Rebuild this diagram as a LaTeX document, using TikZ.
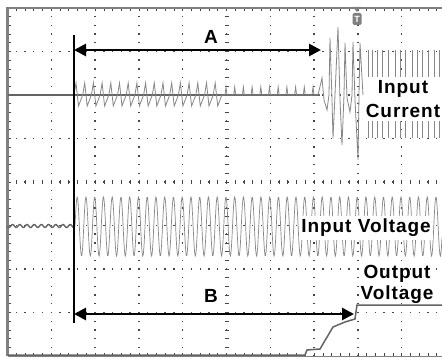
\documentclass[tikz,border=0pt]{standalone}
\usepackage{fontspec}
\setmainfont{Liberation Sans}[BoldFont={Liberation Sans Bold}]
\newfontfamily\labelfont{Liberation Sans Bold}[LetterSpace=5]
\usetikzlibrary{arrows.meta}
\definecolor{trace}{RGB}{100,100,100}
\definecolor{tracelt}{RGB}{135,135,135}
\definecolor{gridc}{RGB}{70,70,70}
\tikzset{
  lbl/.style={font=\labelfont\fontsize{19}{19}\selectfont, inner sep=0pt},
  lblbox/.style={lbl, fill=white, inner xsep=2pt, inner ysep=3pt, align=center},
  marker/.style={line width=2.7pt, black},
  span/.style={marker, {Triangle[length=12pt,width=12pt]}-{Triangle[length=12pt,width=12pt]}},
}

\begin{document}
\begin{tikzpicture}[x=1pt,y=-1pt]
\useasboundingbox (0,0) rectangle (442,358);
\fill[white] (0,0) rectangle (442,358);
% graticule
\foreach \i in {1,...,9}
  \foreach \j in {0,...,40}
    \fill[gridc] ({7.5+43.8*\i-0.7},{8+8.7*\j-0.7}) rectangle ++(1.4,1.4);
\foreach \j in {1,...,7}
  \foreach \i in {0,...,50}
    \fill[gridc] ({7.5+8.76*\i-0.7},{8+43.5*\j-0.7}) rectangle ++(1.4,1.4);
\foreach \i in {0,...,50} {
  \draw[gridc, line width=0.7pt] ({7.5+8.76*\i},180) -- ++(0,4);
  \draw[gridc, line width=0.7pt] ({7.5+8.76*\i},8) -- ++(0,3);
  \draw[gridc, line width=0.7pt] ({7.5+8.76*\i},356) -- ++(0,-3);
}
\foreach \j in {0,...,40} {
  \draw[gridc, line width=0.7pt] (224.5,{8+8.7*\j}) -- ++(4,0);
  \draw[gridc, line width=0.7pt] (7.5,{8+8.7*\j}) -- ++(3,0);
}
\draw[gray, line width=2.2pt] (7.5,356) -- (7.5,8) -- (446,8);
\draw[gray, line width=1pt] (7.5,356) -- (446,356);

% input current
\draw[trace, line width=1.5pt] (7.5,95) -- (320,95);
\draw[tracelt, line width=0.8pt] (74,95) \foreach \i in {0,...,16} { -- ++(2,-12) -- ++(2.5,23) -- ++(4.2,-11) };
\draw[tracelt, line width=0.8pt] (222,95) \foreach \i in {0,...,10} { -- ++(3,0) -- ++(1,-8) -- ++(1,8) -- ++(3.7,0) };
\draw[tracelt, line width=0.8pt] (318,95) -- (322,78) -- (324,100) -- (327,110) -- (329,95) -- (330,38)
  -- (332,100) -- (333,138) -- (335,95) -- (338,27) -- (340,100) -- (342,145) -- (344,95) -- (345,43)
  -- (347,98) -- (350,112) -- (352,95) -- (353,42) -- (355,100) -- (358,160) -- (359,95) -- (360,43) -- (363,95);
\foreach \x in {368,372,377,382,388,395,400,405,412,417,422,428,434,439}
  \draw[tracelt, line width=0.8pt] (\x,50) -- (\x,138);

% input voltage
\draw[trace, line width=1.4pt] plot[domain=7.5:74, samples=90] (\x,{226+1.5*sin(50*\x)});
\draw[tracelt, line width=0.7pt] plot[domain=75:442, samples=700] (\x,{226.5-29.5*sin(41.14*(\x-75))});

% labels
\node[lblbox] (current) at (403,99) {Input\\[5pt]Current};
\node[lblbox] (voltin) at (366,228) {Input Voltage};
\node[lblbox, fill=none] (voltout) at (397,284) {Output\\[2pt]Voltage};
\node[lbl, anchor=base] (labA) at (211,43.5) {A};
\node[lbl, anchor=base] (labB) at (211,302) {B};

% output voltage
\draw[trace, line width=1.5pt] (7.5,355) -- (305,355) -- (307,350) -- (320,349) -- (333,327)
  -- (345,322) -- (355,319) -- (357,305) -- (442,305);

% trigger
\fill[gray] (353,7) -- (361,7) -- (357,12) -- cycle;
\node[fill=gray, text=white, rounded corners=1.5pt, minimum width=9pt, minimum height=12pt,
  inner sep=0pt, font=\labelfont\fontsize{9}{9}\selectfont] (trig) at (357,19) {T};

% markers
\coordinate (mTop) at (74,35);
\coordinate (mBot) at (74,323);
\coordinate (aL) at (74,50);
\coordinate (aR) at (321,50);
\coordinate (bL) at (74,314);
\coordinate (bR) at (354,314);
\draw[marker] (mTop) -- (mBot);
\draw[span] (aL) -- (aR);
\draw[span] (bL) -- (bR);
\end{tikzpicture}
\end{document}
